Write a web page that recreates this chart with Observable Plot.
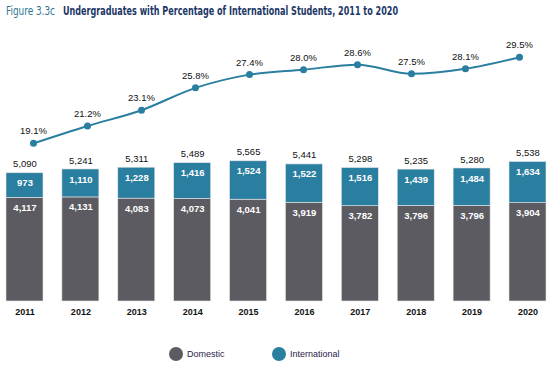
<!DOCTYPE html>
<html>
<head>
<meta charset="utf-8">
<script src="https://cdn.jsdelivr.net/npm/d3@7"></script>
<script src="https://cdn.jsdelivr.net/npm/@observablehq/plot@0.6"></script>
<style>
  html, body { margin: 0; padding: 0; background: #fff; }
  #wrap { position: relative; width: 551px; height: 367px; font-family: "Liberation Sans", Arial, sans-serif; overflow: hidden; }
  #wrap svg { position: absolute; left: 0; top: 0; }
  .tt { position: absolute; top: 3px; font-family: "Liberation Sans Narrow", "DejaVu Sans Condensed", sans-serif; font-size: 13px; white-space: nowrap; transform-origin: 0 0; }
  #fig { color: #2f7595; left: 6px; }
  #main { color: #1c3766; font-weight: bold; left: 63px; }
  .leg { position: absolute; top: 347px; display: flex; align-items: center; font-size: 9px; color: #2a1a4a; }
  .leg span.sw { display: inline-block; width: 14px; height: 14px; border-radius: 50%; margin-right: 4px; }
</style>
</head>
<body>
<div id="wrap">
  <span class="tt" id="fig">Figure 3.3c</span>
  <span class="tt" id="main">Undergraduates with Percentage of International Students, 2011 to 2020</span>
</div>
<script>
const years = ["2011","2012","2013","2014","2015","2016","2017","2018","2019","2020"];
const domestic = [4117,4131,4083,4073,4041,3919,3782,3796,3796,3904];
const international = [973,1110,1228,1416,1524,1522,1516,1439,1484,1634];
const totals = [5090,5241,5311,5489,5565,5441,5298,5235,5280,5538];
const pct = [19.1,21.2,23.1,25.8,27.4,28.0,28.6,27.5,28.1,29.5];
const groups = ["Domestic","International"];
const colors = ["#5b5b61","#2a7e9f"];

const rows = [];
years.forEach((y, i) => {
  rows.push({year: y, group: "Domestic", value: domestic[i]});
  rows.push({year: y, group: "International", value: international[i]});
});
const yearRows = years.map((y, i) => ({year: y, total: totals[i], pct: pct[i]}));
const fmt = d3.format(",");

const W = 551, H = 367;
const common = {
  width: W, height: H,
  marginLeft: 6, marginRight: 5, marginTop: 40, marginBottom: 66,
  style: {fontFamily: "'Liberation Sans', Arial, sans-serif", fontSize: "9px", background: "transparent", overflow: "visible"},
  x: {domain: years, paddingInner: 0.338, paddingOuter: 0, round: false, axis: null}
};

const bars = Plot.plot({
  ...common,
  y: {domain: [0, 10360], axis: null},
  color: {domain: groups, range: colors},
  marks: [
    Plot.barY(rows, {x: "year", y: "value", fill: "group", stroke: "#e6e6e6", strokeWidth: 0.6}),
    Plot.text(rows, Plot.stackY2({x: "year", y: "value", z: "group", text: d => fmt(d.value), fill: "white", fontWeight: "bold", fontSize: 9.5, dy: 10, lineAnchor: "middle"})),
    Plot.text(yearRows, {x: "year", y: "total", text: d => fmt(d.total), fill: "#111", fontSize: 9.5, dy: -9, lineAnchor: "middle"}),
    Plot.axisX({domain: years, tickSize: 0, tickPadding: 7, fontWeight: "bold", fontSize: 9, fill: "#111", label: null})
  ]
});

const line = Plot.plot({
  ...common,
  y: {domain: [0, 31.52], axis: null},
  marks: [
    Plot.line(yearRows, {x: "year", y: "pct", stroke: "#2a7e9f", strokeWidth: 2, curve: "monotone-x"}),
    Plot.dot(yearRows, {x: "year", y: "pct", r: 3.5, fill: "#2a7e9f"}),
    Plot.text(yearRows, {x: "year", y: "pct", text: d => d.pct.toFixed(1) + "%", fill: "#111", fontSize: 9.5, dy: -12, lineAnchor: "middle"})
  ]
});

const wrap = document.getElementById("wrap");
wrap.appendChild(bars);
wrap.appendChild(line);

// fit title spans to reference widths
[["fig", 49], ["main", 335]].forEach(([id, target]) => {
  const el = document.getElementById(id);
  const w = el.getBoundingClientRect().width;
  if (w > 0) el.style.transform = `scaleX(${target / w})`;
});

const legendItems = [{label: "Domestic", left: 169}, {label: "International", left: 272}];
legendItems.forEach((it, i) => {
  const d = document.createElement("div");
  d.className = "leg";
  d.style.left = it.left + "px";
  d.innerHTML = `<span class="sw" style="background:${colors[i]}"></span><span>${it.label}</span>`;
  wrap.appendChild(d);
});
</script>
</body>
</html>
